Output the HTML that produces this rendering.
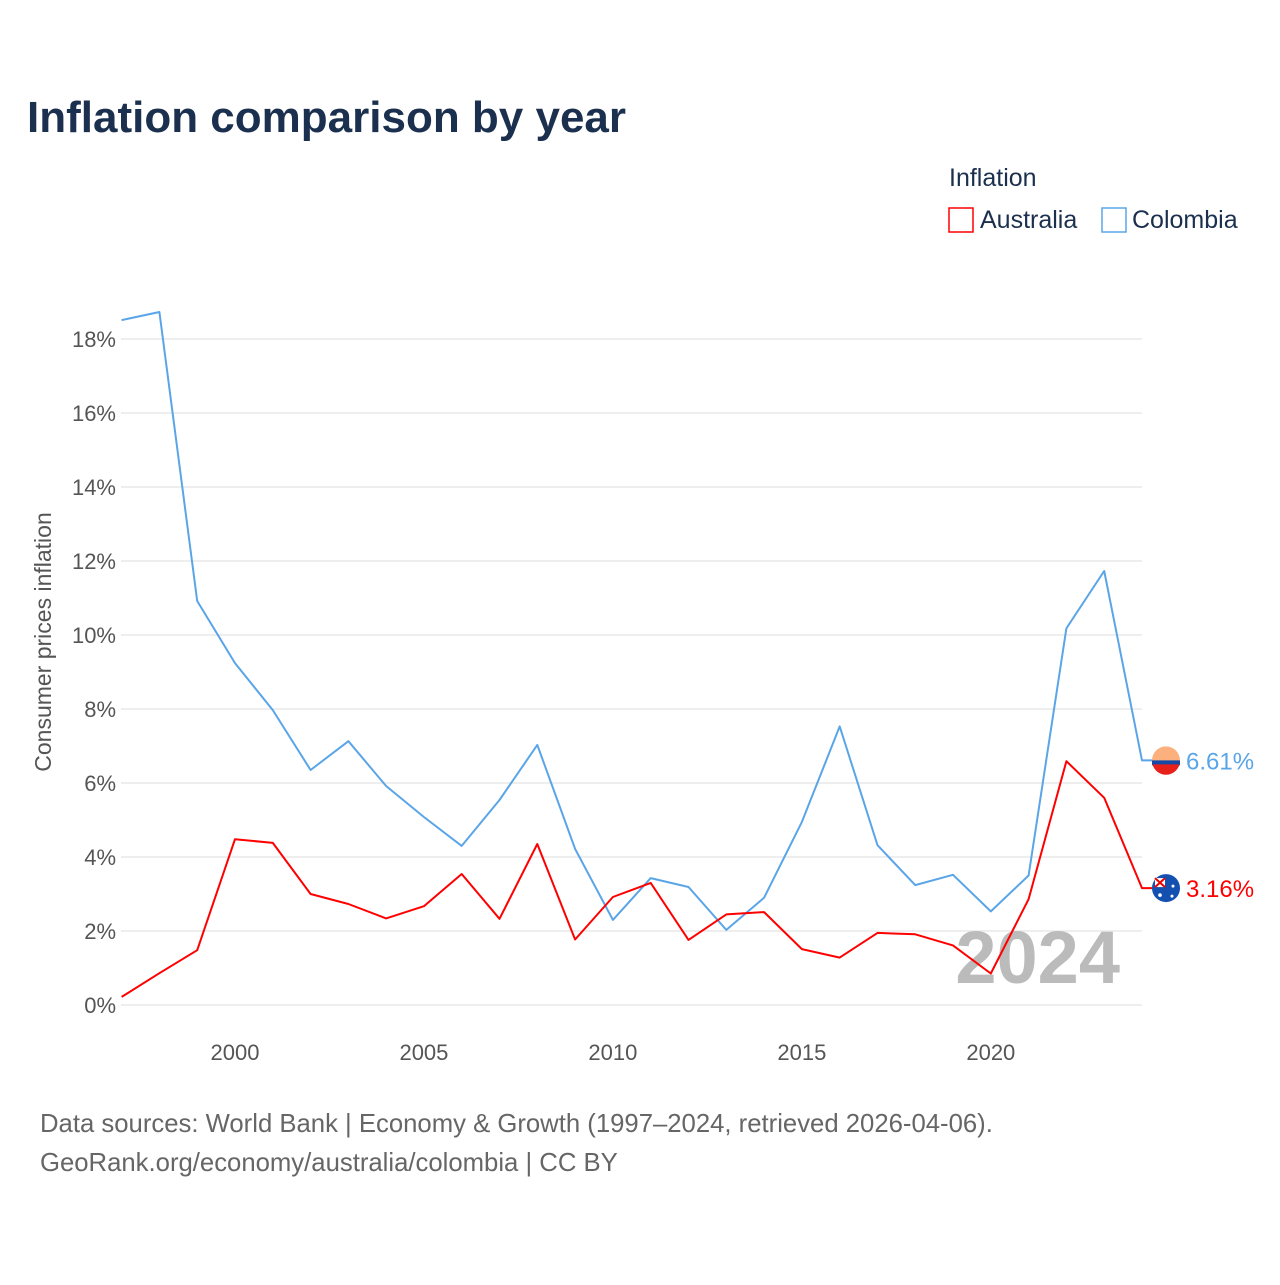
<!DOCTYPE html>
<html><head><meta charset="utf-8"><style>
body{margin:0;background:#fff;width:1280px;height:1280px;overflow:hidden;font-family:"Liberation Sans",sans-serif}
</style></head><body>
<svg width="1280" height="1280" xmlns="http://www.w3.org/2000/svg">
<defs>
<clipPath id="cc"><circle cx="1166" cy="0" r="14"/></clipPath>
</defs>
<text x="27" y="132" font-size="44" font-weight="bold" fill="#1b2f4e">Inflation comparison by year</text>
<text x="949" y="186" font-size="25" fill="#1b2f4e">Inflation</text>
<g><rect x="949" y="208" width="24" height="24" fill="none" stroke="#f00" stroke-width="1.5"/><text x="980" y="228" font-size="25" fill="#1b2f4e">Australia</text></g>
<g><rect x="1102" y="208" width="24" height="24" fill="none" stroke="#5aa5e8" stroke-width="1.5"/><text x="1132" y="228" font-size="25" fill="#1b2f4e">Colombia</text></g>
<g id="grid"></g><g id="yt"></g><g id="xt"></g>
<text transform="translate(51,642) rotate(-90)" text-anchor="middle" font-size="23" fill="#555">Consumer prices inflation</text>
<text x="1120" y="983" text-anchor="end" font-size="74" font-weight="bold" fill="#bbb">2024</text>
<g id="lines"></g>
<text x="40" y="1132" font-size="25.7" fill="#666">Data sources: World Bank | Economy &amp; Growth (1997–2024, retrieved 2026-04-06).</text>
<text x="40" y="1171" font-size="25.7" fill="#666">GeoRank.org/economy/australia/colombia | CC BY</text>
</svg>
<script>
const years=[1997,1998,1999,2000,2001,2002,2003,2004,2005,2006,2007,2008,2009,2010,2011,2012,2013,2014,2015,2016,2017,2018,2019,2020,2021,2022,2023,2024];
const colombia=[18.51,18.73,10.92,9.24,7.97,6.35,7.13,5.92,5.08,4.30,5.54,7.03,4.22,2.30,3.43,3.19,2.03,2.90,4.95,7.53,4.32,3.24,3.52,2.53,3.50,10.18,11.73,6.61];
const australia=[0.22,0.86,1.48,4.48,4.38,3.00,2.73,2.34,2.67,3.54,2.33,4.35,1.77,2.92,3.30,1.76,2.45,2.51,1.51,1.28,1.95,1.91,1.61,0.85,2.86,6.59,5.60,3.16];
const yTicks=[0,2,4,6,8,10,12,14,16,18];
const xTicks=[2000,2005,2010,2015,2020];
const NS="http://www.w3.org/2000/svg";
const X=y=>121.6+(y-1997)*(1142-121.6)/27;
const Y=v=>1005-v*37;
function el(t,a,p){const e=document.createElementNS(NS,t);for(const k in a)e.setAttribute(k,a[k]);(typeof p==='string'?document.getElementById(p):p).appendChild(e);return e;}
yTicks.forEach(t=>{
 const l=el('line',{x1:121,x2:1142,y1:Y(t),y2:Y(t),stroke:'#e8e8e8','stroke-width':1.5},'grid');
 
 
 const tx=el('text',{x:116,y:Y(t)+8,'text-anchor':'end','font-size':22,fill:'#555'},'yt');tx.textContent=t+'%';
 
 
});
xTicks.forEach(t=>{
 const tx=el('text',{x:X(t),y:1060,'text-anchor':'middle','font-size':22,fill:'#555'},'xt');tx.textContent=t;
 
 
});
function series(vals,col,name,flag){
 let d=vals.map((v,i)=>(i?'L':'M')+X(years[i]).toFixed(1)+' '+Y(v).toFixed(1)).join(' ');
 const last=vals[vals.length-1];
 const cy=Y(last);
 d+=' L1166 '+cy.toFixed(1);
 const p=el('path',{d:d,fill:'none',stroke:col,'stroke-width':2,'stroke-linejoin':'round'},'lines');
 
 
 const g=el('g',{},'lines');
 
 
 flag(g,cy);
 const t=el('text',{x:1186,y:cy+9,'font-size':24,fill:col},'lines');t.textContent=last.toFixed(2)+'%';
 
 
}
series(colombia,'#5aa5e8','colombia',(g,cy)=>{
 el('circle',{cx:1166,cy:cy,r:14,fill:'#fbb07e'},g);
 el('path',{d:`M1152 ${cy} h28 v5 h-28z`,fill:'#1449a8'},g);
 el('path',{d:`M1152.5 ${cy+4} h27 A14 14 0 0 1 1152.5 ${cy+4}z`,fill:'#e8201c'},g);
});
series(australia,'#f00','australia',(g,cy)=>{
 el('circle',{cx:1166,cy:cy,r:14,fill:'#1450b0'},g);
 el('rect',{x:1155,y:cy-10,width:10,height:9,fill:'#fff'},g);
 el('path',{d:`M1155 ${cy-10} l10 9 M1165 ${cy-10} l-10 9`,stroke:'#e00',"stroke-width":2},g);
 el('circle',{cx:1160,cy:cy+7,r:1.8,fill:'#fff'},g);
 el('circle',{cx:1173,cy:cy-2,r:1.5,fill:'#fff'},g);
 el('circle',{cx:1172,cy:cy+8,r:1.5,fill:'#fff'},g);
});
</script>
</body></html>
